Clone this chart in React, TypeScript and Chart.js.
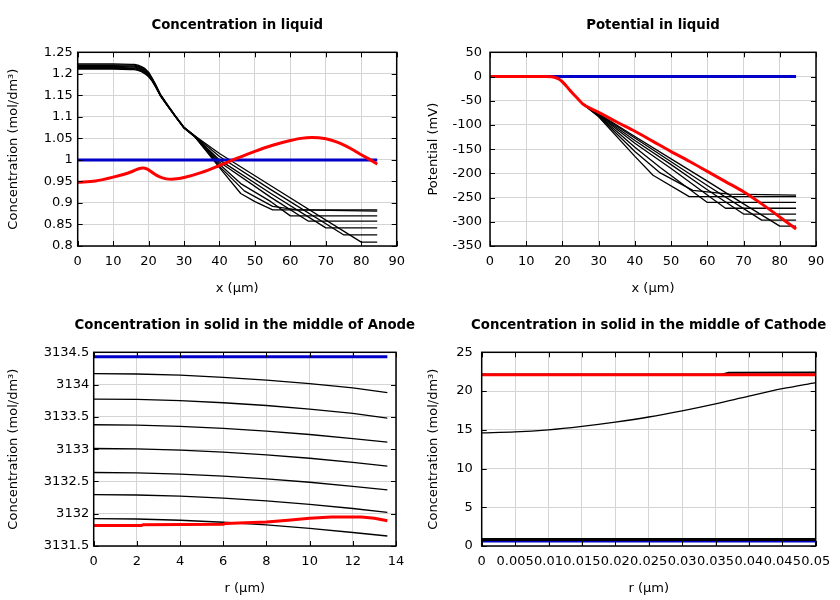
import React, { useEffect, useRef } from "react";
import { Chart, registerables } from "chart.js";
Chart.register(...registerables);

type P = [number, number];

// ---------- Concentration in liquid (mol/dm3) vs x (um) ----------
const liqRed: P[] = [[0,0.948],[5,0.951],[10,0.960],[15,0.972],[17,0.979],[18.5,0.981],[19.5,0.979],[21,0.971],[23,0.961],[25,0.956],[26.5,0.955],[28,0.956],[30,0.959],[35,0.971],[40,0.987],[45,1.004],[50,1.020],[55,1.034],[60,1.045],[63,1.050],[66,1.052],[70,1.049],[73,1.042],[75,1.035],[78,1.022],[80,1.012],[82,1.003],[84.5,0.990]];
const liqBlue: P[] = [[0,1.0],[84.5,1.0]];
const liqF: P[] = [[0,1.223],[10,1.223],[15,1.222],[16,1.222],[17,1.220],[18,1.217],[19,1.212],[20,1.204],[21,1.190],[22,1.175],[23.3,1.153],[25,1.132],[27.5,1.103],[30,1.076],[33,1.056],[40,1.015],[54.5,0.940],[80,0.809],[84.5,0.809]];
const liqE: P[] = [[0,1.221],[10,1.221],[15,1.220],[16,1.220],[17,1.218],[18,1.215],[19,1.210],[20,1.202],[21,1.189],[22,1.174],[23.3,1.152],[25,1.132],[27.5,1.103],[30,1.075],[33,1.056],[40,1.008],[54.5,0.931],[75,0.826],[84.5,0.826]];
const liqD: P[] = [[0,1.219],[10,1.219],[15,1.218],[16,1.218],[17,1.216],[18,1.213],[19,1.208],[20,1.200],[21,1.188],[22,1.173],[23.3,1.151],[25,1.131],[27.5,1.102],[30,1.075],[33,1.055],[40,1.000],[54.5,0.922],[70,0.842],[84.5,0.842]];
const liqC: P[] = [[0,1.217],[10,1.217],[15,1.216],[16,1.216],[17,1.214],[18,1.211],[19,1.206],[20,1.198],[21,1.186],[22,1.172],[23.3,1.151],[25,1.131],[27.5,1.102],[30,1.075],[33,1.055],[40,0.995],[54.5,0.913],[65,0.858],[84.5,0.858]];
const liqB: P[] = [[0,1.215],[10,1.215],[15,1.214],[16,1.214],[17,1.212],[18,1.209],[19,1.204],[20,1.196],[21,1.185],[22,1.171],[23.3,1.150],[25,1.130],[27.5,1.102],[30,1.074],[33,1.055],[40,0.990],[46,0.945],[54.5,0.903],[60,0.870],[84.5,0.870]];
const liqG: P[] = [[0,1.213],[10,1.213],[15,1.212],[16,1.212],[17,1.210],[18,1.207],[19,1.202],[20,1.195],[21,1.184],[22,1.170],[23.3,1.150],[25,1.130],[27.5,1.101],[30,1.074],[33,1.054],[40,0.985],[47,0.928],[55,0.892],[62,0.884],[84.5,0.881]];
const liqA: P[] = [[0,1.211],[10,1.211],[15,1.210],[16,1.210],[17,1.208],[18,1.205],[19,1.200],[20,1.193],[21,1.183],[22,1.169],[23.3,1.149],[25,1.129],[27.5,1.101],[30,1.074],[33,1.054],[40,0.982],[46,0.922],[50,0.903],[55,0.884],[84.5,0.884]];

// ---------- Potential in liquid (mV) vs x (um) ----------
const potRed: P[] = [[0,0],[10,0],[15,-0.2],[17,-0.5],[18,-2],[19,-5],[20,-11],[21,-19],[22,-28],[23,-36],[24,-44],[25,-52],[25.5,-56],[26.5,-61],[28,-67],[30,-74],[35,-94],[40,-113],[45,-134],[50,-155],[55,-175],[60,-196],[65,-217],[70,-238],[75,-263],[80,-290],[84.5,-315]];
const potBlue: P[] = [[0,0],[84.5,0]];
const potHeadX = [0,10,15,17,18,19,20,21,22,23,24,25,25.5];
const potHeadV = [0,0,-0.2,-0.5,-2,-5,-11,-19,-28,-36,-44,-52,-56];
const potF: P[] = [[30,-77],[40,-124],[50,-170],[60,-216],[70,-263],[80,-309],[84.5,-309]];
const potE: P[] = [[30,-78],[40,-127],[50,-176],[60,-225],[75,-296.5],[84.5,-296.5]];
const potD: P[] = [[30,-79],[40,-132],[50,-182],[60,-234],[70,-284],[84.5,-284]];
const potC: P[] = [[30,-80],[40,-138],[50,-190],[65,-272],[84.5,-272]];
const potB: P[] = [[30,-81],[40,-146],[47,-188],[60,-260],[84.5,-260]];
const potG: P[] = [[30,-82],[40,-155],[47,-199],[56,-235],[66,-243],[84.5,-245]];
const potA: P[] = [[30,-83],[40,-165],[45,-204],[55,-248],[84.5,-248]];

// ---------- Concentration in solid, anode middle ----------
const anR = [0,2,4,6,8,10,12,13.6];
const an1 = [3134.17,3134.164,3134.145,3134.113,3134.07,3134.015,3133.948,3133.875];
const an2 = [3133.776,3133.77,3133.751,3133.719,3133.676,3133.621,3133.554,3133.481];
const an3 = [3133.378,3133.372,3133.353,3133.322,3133.28,3133.227,3133.163,3133.109];
const an4 = [3133.01,3133.004,3132.985,3132.954,3132.912,3132.859,3132.795,3132.736];
const an5 = [3132.638,3132.632,3132.613,3132.582,3132.54,3132.487,3132.423,3132.369];
const an6 = [3132.296,3132.29,3132.271,3132.24,3132.198,3132.145,3132.081,3132.022];
const an7 = [3131.924,3131.918,3131.899,3131.868,3131.826,3131.773,3131.709,3131.655];
const anRed: P[] = [[0,3131.816],[2.2,3131.816],[2.3,3131.83],[6,3131.835],[6.1,3131.85],[8,3131.87],[9,3131.9],[10,3131.93],[11,3131.95],[12.4,3131.95],[13,3131.93],[13.6,3131.89]];
const anBlue: P[] = [[0,3134.43],[13.6,3134.43]];

// ---------- Concentration in solid, cathode middle ----------
const caR = [0,0.005,0.01,0.015,0.02,0.025,0.03,0.035,0.04,0.045,0.05];
const caMid = [14.61,14.72,15.0,15.45,16.0,16.65,17.45,18.35,19.35,20.3,21.1];
const caTop: P[] = [[0,22.15],[0.036,22.15],[0.037,22.35],[0.05,22.4]];
const caLow: P[] = [[0,0.85],[0.05,0.85]];
const caRed: P[] = [[0,22.1],[0.05,22.1]];
const caBlue: P[] = [[0,0.65],[0.05,0.65]];

const FONT = "'DejaVu Sans', sans-serif";
const RED = "#ff0000";
const BLUE = "rgb(0,0,200)";
const BLACK = "#000000";

const pts = (a: P[]) => a.map(([x, y]) => ({ x, y }));
const zipPts = (xs: number[], ys: number[]) => xs.map((x, i) => ({ x, y: ys[i] }));
const headPlus = (tail: P[]) => [...zipPts(potHeadX, potHeadV), ...pts(tail)];

const ds = (data: any[], color: string, width: number, smooth = false) => ({
  data,
  borderColor: color,
  backgroundColor: color,
  borderWidth: width,
  pointRadius: 0,
  fill: false,
  tension: 0,
  cubicInterpolationMode: smooth ? "monotone" : "default",
  borderJoinStyle: "round",
});

const fmt = (v: number) => String(Math.round(v * 1e6) / 1e6);

const framePlugin = {
  id: "frame",
  afterDatasetsDraw(chart: any) {
    const { ctx, chartArea: a, scales } = chart;
    const xs = scales.x;
    const ys = scales.y;
    const L = 5;
    ctx.save();
    ctx.strokeStyle = "#000";
    ctx.lineWidth = 1;
    ctx.beginPath();
    xs.ticks.forEach((t: any) => {
      const p = Math.round(xs.getPixelForValue(t.value)) + 0.5;
      ctx.moveTo(p, a.bottom);
      ctx.lineTo(p, a.bottom - L);
      ctx.moveTo(p, a.top);
      ctx.lineTo(p, a.top + L);
    });
    ys.ticks.forEach((t: any) => {
      const p = Math.round(ys.getPixelForValue(t.value)) + 0.5;
      ctx.moveTo(a.left, p);
      ctx.lineTo(a.left + L, p);
      ctx.moveTo(a.right, p);
      ctx.lineTo(a.right - L, p);
    });
    ctx.stroke();
    ctx.lineWidth = 1.5;
    ctx.strokeRect(a.left, a.top, a.right - a.left, a.bottom - a.top);
    ctx.restore();
  },
};

// Title centred over the plot area, drawn at full width (not squeezed).
const plotTitlePlugin = {
  id: "plotTitle",
  afterDraw(chart: any, _args: any, opts: any) {
    const { ctx, chartArea: a } = chart;
    ctx.save();
    ctx.font = `bold 13.3px ${FONT}`;
    ctx.fillStyle = "#000";
    ctx.textAlign = "center";
    ctx.textBaseline = "middle";
    ctx.fillText(opts.text, (a.left + a.right) / 2, 26);
    ctx.restore();
  },
};

type Spec = {
  title: string;
  xTitle: string;
  yTitle: string;
  x: [number, number, number];
  y: [number, number, number];
  yWidth: number;
  yPad: number;
  rightPad: number;
  datasets: any[];
};

function Panel({ spec, left, top }: { spec: Spec; left: number; top: number }) {
  const ref = useRef<HTMLCanvasElement>(null);
  useEffect(() => {
    if (!ref.current) return;
    const tickFont = { family: FONT, size: 13 };
    const chart = new Chart(ref.current, {
      type: "line",
      data: { datasets: spec.datasets },
      plugins: [framePlugin, plotTitlePlugin],
      options: {
        animation: false,
        responsive: false,
        events: [],
        layout: { padding: { left: 0, top: 52.3, bottom: 0, right: spec.rightPad } },
        plugins: {
          legend: { display: false },
          tooltip: { enabled: false },
          title: { display: false },
          plotTitle: { text: spec.title },
        },
        scales: {
          x: {
            type: "linear",
            min: spec.x[0],
            max: spec.x[1],
            ticks: {
              stepSize: spec.x[2],
              autoSkip: false,
              maxRotation: 0,
              minRotation: 0,
              padding: 8,
              color: "#000",
              font: tickFont,
              callback: (v: any) => fmt(Number(v)),
            },
            grid: { color: "#d4d4d4", lineWidth: 1, drawTicks: false },
            border: { display: false },
            title: {
              display: true,
              text: spec.xTitle,
              color: "#000",
              font: tickFont,
              padding: { top: 0, bottom: 3.7 },
            },
            afterFit: (s: any) => {
              s.height = 54;
            },
          },
          y: {
            type: "linear",
            min: spec.y[0],
            max: spec.y[1],
            ticks: {
              stepSize: spec.y[2],
              autoSkip: false,
              padding: spec.yPad,
              color: "#000",
              font: tickFont,
              callback: (v: any) => fmt(Number(v)),
            },
            grid: { color: "#d4d4d4", lineWidth: 1, drawTicks: false },
            border: { display: false },
            title: {
              display: true,
              text: spec.yTitle,
              color: "#000",
              font: tickFont,
              padding: { top: 5.5, bottom: 0 },
            },
            afterFit: (s: any) => {
              s.width = spec.yWidth;
            },
          },
        },
      } as any,
    });
    return () => chart.destroy();
  }, [spec]);
  return (
    <canvas
      ref={ref}
      width={420}
      height={300}
      style={{ position: "absolute", left, top, width: 420, height: 300 }}
    />
  );
}

const specs: Spec[] = [
  {
    title: "Concentration in liquid",
    xTitle: "x (μm)",
    yTitle: "Concentration (mol/dm³)",
    x: [0, 90, 10],
    y: [0.8, 1.25, 0.05],
    yWidth: 77.7,
    yPad: 5,
    rightPad: 23.3,
    datasets: [
      ds(pts(liqRed), RED, 3, true),
      ds(pts(liqBlue), BLUE, 3),
      ds(pts(liqF), BLACK, 1.3),
      ds(pts(liqE), BLACK, 1.3),
      ds(pts(liqD), BLACK, 1.3),
      ds(pts(liqC), BLACK, 1.3),
      ds(pts(liqB), BLACK, 1.3),
      ds(pts(liqG), BLACK, 1.3),
      ds(pts(liqA), BLACK, 1.3),
    ],
  },
  {
    title: "Potential in liquid",
    xTitle: "x (μm)",
    yTitle: "Potential (mV)",
    x: [0, 90, 10],
    y: [-350, 50, 50],
    yWidth: 70,
    yPad: 8,
    rightPad: 24,
    datasets: [
      ds(pts(potRed), RED, 3, true),
      ds(pts(potBlue), BLUE, 3),
      ds(headPlus(potF), BLACK, 1.3),
      ds(headPlus(potE), BLACK, 1.3),
      ds(headPlus(potD), BLACK, 1.3),
      ds(headPlus(potC), BLACK, 1.3),
      ds(headPlus(potB), BLACK, 1.3),
      ds(headPlus(potG), BLACK, 1.3),
      ds(headPlus(potA), BLACK, 1.3),
    ],
  },
  {
    title: "Concentration in solid in the middle of Anode",
    xTitle: "r (μm)",
    yTitle: "Concentration (mol/dm³)",
    x: [0, 14, 2],
    y: [3131.5, 3134.5, 0.5],
    yWidth: 93.7,
    yPad: 4.5,
    rightPad: 24,
    datasets: [
      ds(pts(anRed), RED, 3),
      ds(pts(anBlue), BLUE, 3),
      ds(zipPts(anR, an1), BLACK, 1.3),
      ds(zipPts(anR, an2), BLACK, 1.3),
      ds(zipPts(anR, an3), BLACK, 1.3),
      ds(zipPts(anR, an4), BLACK, 1.3),
      ds(zipPts(anR, an5), BLACK, 1.3),
      ds(zipPts(anR, an6), BLACK, 1.3),
      ds(zipPts(anR, an7), BLACK, 1.3),
    ],
  },
  {
    title: "Concentration in solid in the middle of Cathode",
    xTitle: "r (μm)",
    yTitle: "Concentration (mol/dm³)",
    x: [0, 0.05, 0.005],
    y: [0, 25, 5],
    yWidth: 61.7,
    yPad: 9,
    rightPad: 24.3,
    datasets: [
      ds(pts(caRed), RED, 3),
      ds(pts(caLow), BLACK, 3),
      ds(pts(caBlue), BLUE, 3),
      ds(pts(caTop), BLACK, 2),
      ds(zipPts(caR, caMid), BLACK, 1.3, true),
    ],
  },
];

export default function App() {
  return (
    <div style={{ position: "absolute", left: 0, top: 0, width: 840, height: 600, background: "#fff" }}>
      <Panel spec={specs[0]} left={0} top={0} />
      <Panel spec={specs[1]} left={420} top={0} />
      <Panel spec={specs[2]} left={0} top={300} />
      <Panel spec={specs[3]} left={420} top={300} />
    </div>
  );
}
